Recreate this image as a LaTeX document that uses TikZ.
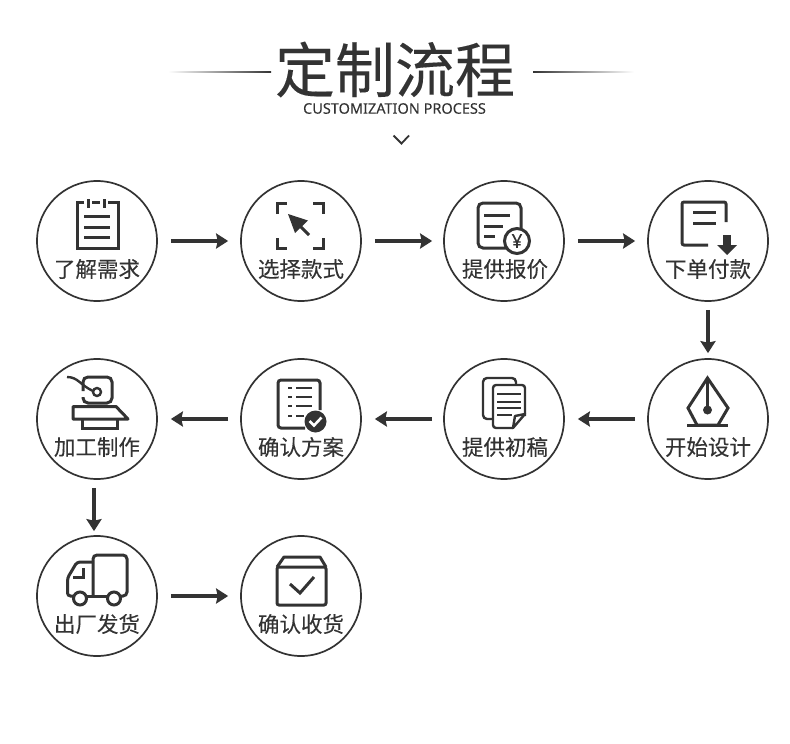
\documentclass[tikz,border=0pt]{standalone}
\usepackage{fontspec}
\setmainfont{Noto Sans CJK SC}[FakeBold=0.15]
\newfontfamily\latinfont{Noto Sans}[FakeBold=0.15]
\usetikzlibrary{arrows.meta}
\definecolor{inkgray}{HTML}{333333}
\tikzset{
	stepcircle/.style={draw=inkgray,circle,line width=1.7pt,minimum size=120pt,inner sep=0pt},
	steplabel/.style={text=inkgray,font=\fontsize{21.5}{24}\selectfont,inner sep=0pt},
	flowarrow/.style={draw=inkgray,line width=3.1pt,-{Stealth[length=12pt,width=15pt,inset=1.5pt]}},
	stepicon/.style={draw=inkgray,line width=3pt},
	thinicon/.style={draw=inkgray,line width=2.4pt}
}
\begin{document}
\begin{tikzpicture}[x=1pt,y=-1pt]
						\useasboundingbox (0,0) rectangle (790,744);
						\node[text=inkgray,font=\fontsize{60}{62}\selectfont,inner sep=0pt] (title) at (395,69.5) {定制流程};
						\node[text=inkgray,font=\latinfont\fontsize{14.5}{16}\selectfont,inner sep=0pt] (subtitle) at (394.5,108.5) {CUSTOMIZATION PROCESS};
						\shade[left color=white,right color=inkgray] (168,71.1) rectangle (271,72.9);
						\shade[left color=inkgray,right color=white] (533,71.1) rectangle (634,72.9);
						\draw[inkgray,line width=1.8pt] (393.5,135.5) -- (401.5,143.5) -- (409,135.5);

						\node[stepcircle] (need) at (97,241) {};
						\node[stepcircle] (style) at (301,241) {};
						\node[stepcircle] (quote) at (504,241) {};
						\node[stepcircle] (order) at (708,241) {};
						\node[stepcircle] (design) at (708,419) {};
						\node[stepcircle] (draft) at (504,419) {};
						\node[stepcircle] (confirm) at (301,419) {};
						\node[stepcircle] (make) at (97,419) {};
						\node[stepcircle] (ship) at (97,596) {};
						\node[stepcircle] (receive) at (301,596) {};

						\node[steplabel] (needtext) at (97,269) {了解需求};
						\node[steplabel] (styletext) at (301,269) {选择款式};
						\node[steplabel] (quotetext) at (505,269) {提供报价};
						\node[steplabel] (ordertext) at (708,269) {下单付款};
						\node[steplabel] (designtext) at (708,447) {开始设计};
						\node[steplabel] (drafttext) at (505,447) {提供初稿};
						\node[steplabel] (confirmtext) at (301,447) {确认方案};
						\node[steplabel] (maketext) at (97,447) {加工制作};
						\node[steplabel] (shiptext) at (97,624) {出厂发货};
						\node[steplabel] (receivetext) at (301,624) {确认收货};

						\draw[flowarrow,shorten <=13pt,shorten >=12pt] (need) -- (style);
						\draw[flowarrow,shorten <=13pt,shorten >=11pt] (style) -- (quote);
						\draw[flowarrow,shorten <=13pt,shorten >=12pt] (quote) -- (order);
						\draw[flowarrow,shorten <=8pt,shorten >=5pt] (order) -- (design);
						\draw[flowarrow,shorten <=12pt,shorten >=13pt] (design) -- (draft);
						\draw[flowarrow,shorten <=11pt,shorten >=13pt] (draft) -- (confirm);
						\draw[flowarrow,shorten <=12pt,shorten >=13pt] (confirm) -- (make);
						\draw[flowarrow,shorten <=8pt,shorten >=4pt] ([xshift=-3pt]make.south) -- ([xshift=-3pt]ship.north);
						\draw[flowarrow,shorten <=13pt,shorten >=12pt] (ship) -- (receive);

						\draw[stepicon] (84,202) -- (77,202) -- (77,248) -- (118,248) -- (118,202) -- (108,202);
						\draw[stepicon] (92,202) -- (100,202);
						\draw[stepicon] (88,199) -- (88,208);
						\draw[stepicon] (104,199) -- (104,208);
						\draw[stepicon] (84,216) -- (110,216);
						\draw[stepicon] (84,227) -- (110,227);
						\draw[stepicon] (84,237) -- (110,237);

						\draw[stepicon] (277,214) -- (277,203.5) -- (287,203.5);
						\draw[stepicon] (313,203.5) -- (323,203.5) -- (323,214);
						\draw[stepicon] (277,238) -- (277,248) -- (287,248);
						\draw[stepicon] (313,248) -- (323,248) -- (323,238);
						\fill[inkgray] (288,214) -- (308,220.5) -- (295,233) -- cycle;
						\draw[stepicon] (298,224) -- (309,235);

						\draw[stepicon,rounded corners=5pt] (510,248) -- (478,248) -- (478,203) -- (521,203) -- (521,228);
						\draw[stepicon] (484,215) -- (510,215);
						\draw[stepicon] (484,226) -- (503,226);
						\draw[stepicon] (484,236) -- (495,236);
						\draw[stepicon,fill=white] (517,241) circle (12.5pt);
						\node[text=inkgray,font=\latinfont\bfseries\fontsize{19}{20}\selectfont,inner sep=0pt] (yen) at (517,241) {¥};

						\draw[stepicon,rounded corners=2pt] (708,245) -- (682,245) -- (682,202) -- (726,202) -- (726,222);
						\draw[stepicon] (693,212) -- (716,212);
						\draw[stepicon] (693,223) -- (716,223);
						\fill[inkgray] (723,235) rectangle (731,246);
						\fill[inkgray] (717,245) -- (737,245) -- (727,255) -- cycle;

						\draw[stepicon,line join=miter] (707.5,378) -- (728,408) -- (718,425) -- (697,425) -- (688,408) -- cycle;
						\draw[stepicon] (687,425) -- (728,425);
						\draw[stepicon] (707.5,380) -- (707.5,408);
						\fill[inkgray] (707.5,410) circle (4.5pt);

						\draw[thinicon,rounded corners=4pt] (493,419) -- (483,419) -- (483,378) -- (516,378) -- (516,385);
						\draw[thinicon,fill=white,rounded corners=3pt] (513,428) -- (493,428) -- (493,385) -- (525,385) -- (525,416);
						\draw[thinicon,line join=round] (525,414) -- (513,428) -- (515,416) -- cycle;
						\draw[thinicon] (497,394) -- (521,394);
						\draw[thinicon] (497,402) -- (521,402);
						\draw[thinicon] (497,408) -- (521,408);
						\draw[thinicon] (497,415) -- (512,415);

						\draw[stepicon,rounded corners=3pt] (305,428) -- (278,428) -- (278,380) -- (320,380) -- (320,410);
						\draw[thinicon] (288,388) -- (292,388);
						\draw[thinicon] (296,388) -- (312,388);
						\draw[thinicon] (288,397) -- (292,397);
						\draw[thinicon] (296,397) -- (312,397);
						\draw[thinicon] (288,406) -- (292,406);
						\draw[thinicon] (296,406) -- (312,406);
						\draw[thinicon] (288,416) -- (292,416);
						\draw[thinicon] (296,416) -- (304,416);
						\fill[inkgray] (315.5,421.5) circle (11pt);
						\draw[white,line width=2.6pt] (309.5,421) -- (314,425.5) -- (321.5,417.5);

						\draw[stepicon,rounded corners=5pt] (83,391) -- (83,377) -- (112,377) -- (112,403) -- (83,403) -- (83,397);
						\draw[thinicon] (67,377) .. controls (78,377) and (80,385) .. (93,391);
						\draw[thinicon] (97,392) circle (4pt);
						\draw[stepicon,line join=round] (73,419) -- (73,406.5) -- (116,406.5) -- (128,419) -- cycle;
						\draw[stepicon] (82,419) -- (82,428) -- (117,428) -- (117,419);

						\draw[stepicon,rounded corners=4pt] (93,596) -- (93,555) -- (127,555) -- (127,596) -- (121,596);
						\draw[stepicon] (87,596) -- (107,596);
						\draw[stepicon,rounded corners=3pt] (93,562) -- (77,562) -- (67.5,578) -- (67.5,596) -- (73,596);
						\draw[stepicon] (83,568) -- (83,577) -- (73,577);
						\draw[stepicon] (80,598.5) circle (6.5pt);
						\draw[stepicon] (114,598.5) circle (6.5pt);

						\draw[stepicon,rounded corners=2pt] (277,567) -- (277,605) -- (326,605) -- (326,567) -- cycle;
						\draw[stepicon,line join=round] (277,567) -- (284,557) -- (320,557) -- (326,567);
						\draw[stepicon] (290,584) -- (300,593) -- (314,577);
					\end{tikzpicture}
\end{document}
